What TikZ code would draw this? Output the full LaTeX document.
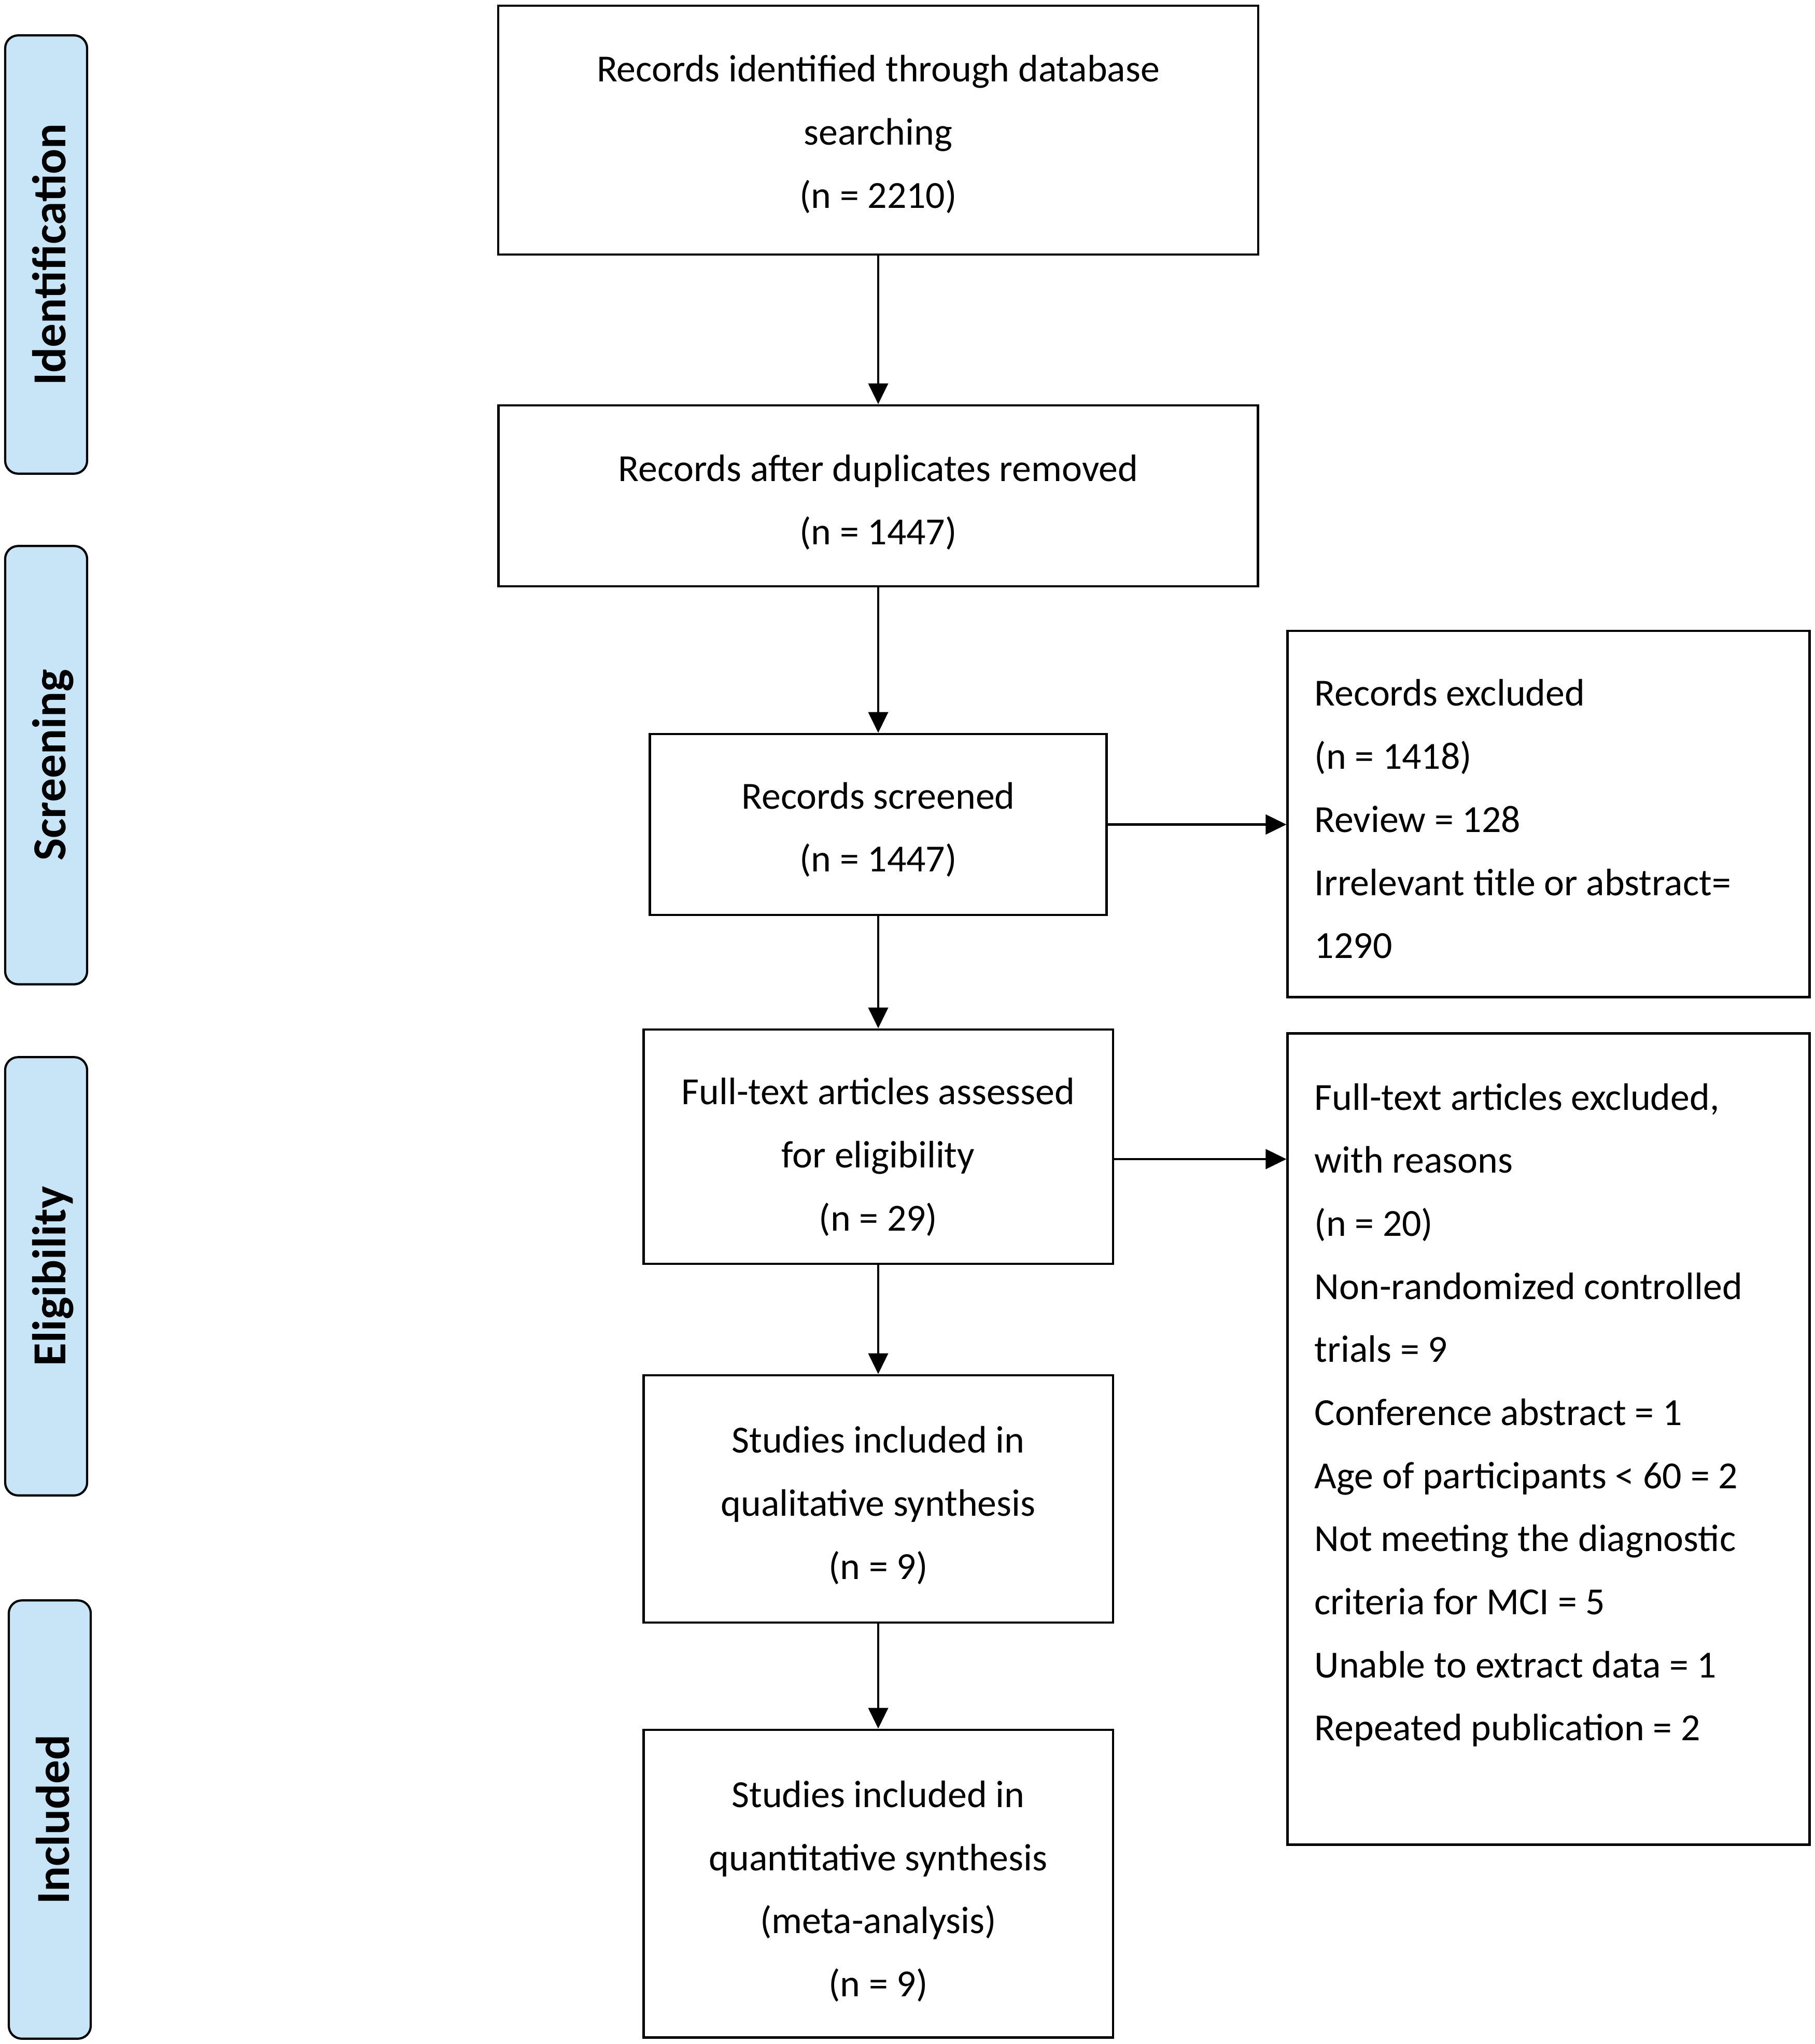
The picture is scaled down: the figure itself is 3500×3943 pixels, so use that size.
\documentclass[tikz,border=0pt]{standalone}
\usepackage{fontspec}
\setmainfont{Carlito}
\usetikzlibrary{arrows.meta}
\definecolor{barblue}{RGB}{200,228,247}
\begin{document}
\begin{tikzpicture}[x=0.01cm,y=-0.01cm,
  box/.style={draw=black,line width=1.3pt,rectangle,inner sep=0pt},
  bt/.style={align=center,inner sep=0pt,font=\fontsize{21}{34.6}\selectfont},
  txt/.style={align=left,inner sep=0pt,anchor=north west,font=\fontsize{21}{34.6}\selectfont},
  bar/.style={draw=black,line width=1.2pt,fill=barblue,rounded corners=0.25cm,
    minimum width=1.58cm,minimum height=8.45cm,inner sep=0pt},
  bartxt/.style={rotate=90,anchor=base,inner sep=0pt,font=\fontsize{26}{30}\selectfont\bfseries},
  arr/.style={line width=1.2pt,-{Triangle[length=0.4cm,width=0.38cm]}}]
\useasboundingbox (0,0) rectangle (3500,3943);

% phase bars
\node[bar] (barI) at (89,491) {};
\node[bartxt] (barIt) at (126,491) {Identification};
\node[bar] (barS) at (89,1476) {};
\node[bartxt] (barSt) at (126,1476) {Screening};
\node[bar] (barE) at (89,2462) {};
\node[bartxt] (barEt) at (126,2462) {Eligibility};
\node[bar] (barN) at (96,3510) {};
\node[bartxt] (barNt) at (133,3510) {Included};

% main column
\node[box,minimum width=14.65cm,minimum height=4.80cm] (b1) at (1694,251) {};
\node[bt,yshift=-0.08cm] (b1t) at (b1.center)
  {Records identified through database\\searching\\(n = 2210)};
\node[box,minimum width=14.64cm,minimum height=3.49cm] (b2) at (1694,956.5) {};
\node[bt,yshift=-0.126cm] (b2t) at (b2.center)
  {Records after duplicates removed\\(n = 1447)};
\node[box,minimum width=8.80cm,minimum height=3.49cm] (b3) at (1694,1590.5) {};
\node[bt,yshift=-0.10cm] (b3t) at (b3.center)
  {Records screened\\(n = 1447)};
\node[box,minimum width=9.05cm,minimum height=4.52cm] (b4) at (1694,2212) {};
\node[bt,yshift=-0.20cm] (b4t) at (b4.center)
  {Full-text articles assessed\\for eligibility\\(n = 29)};
\node[box,minimum width=9.05cm,minimum height=4.77cm] (b5) at (1694,2891.5) {};
\node[bt,yshift=-0.126cm] (b5t) at (b5.center)
  {Studies included in\\qualitative synthesis\\(n = 9)};
\node[box,minimum width=9.05cm,minimum height=5.93cm] (b6) at (1694,3633.5) {};
\node[bt,yshift=-0.15cm] (b6t) at (b6.center)
  {Studies included in\\quantitative synthesis\\(meta-analysis)\\(n = 9)};

% exclusion boxes
\node[box,minimum width=10.06cm,minimum height=7.06cm] (e1) at (2987,1570) {};
\node[txt] (e1t) at (2535,1310)
  {Records excluded\\(n = 1418)\\Review = 128\\Irrelevant title or abstract=\\1290};
\node[box,minimum width=10.06cm,minimum height=15.64cm] (e2) at (2987,2776) {};
\node[txt] (e2t) at (2535,2089)
  {Full-text articles excluded,\\with reasons\\(n = 20)\\Non-randomized controlled\\trials = 9\\Conference abstract = 1\\Age of participants < 60 = 2\\Not meeting the diagnostic\\criteria for MCI = 5\\Unable to extract data = 1\\Repeated publication = 2};

% connectors
\draw[arr] (b1.south) -- (b2.north);
\draw[arr] (b2.south) -- (b3.north);
\draw[arr] (b3.south) -- (b4.north);
\draw[arr] (b4.south) -- (b5.north);
\draw[arr] (b5.south) -- (b6.north);
\draw[arr] (b3.east) -- (b3.east -| e1.west);
\coordinate (a2) at (0,2236);
\draw[arr] (b4.east |- a2) -- (e2.west |- a2);
\end{tikzpicture}
\end{document}
